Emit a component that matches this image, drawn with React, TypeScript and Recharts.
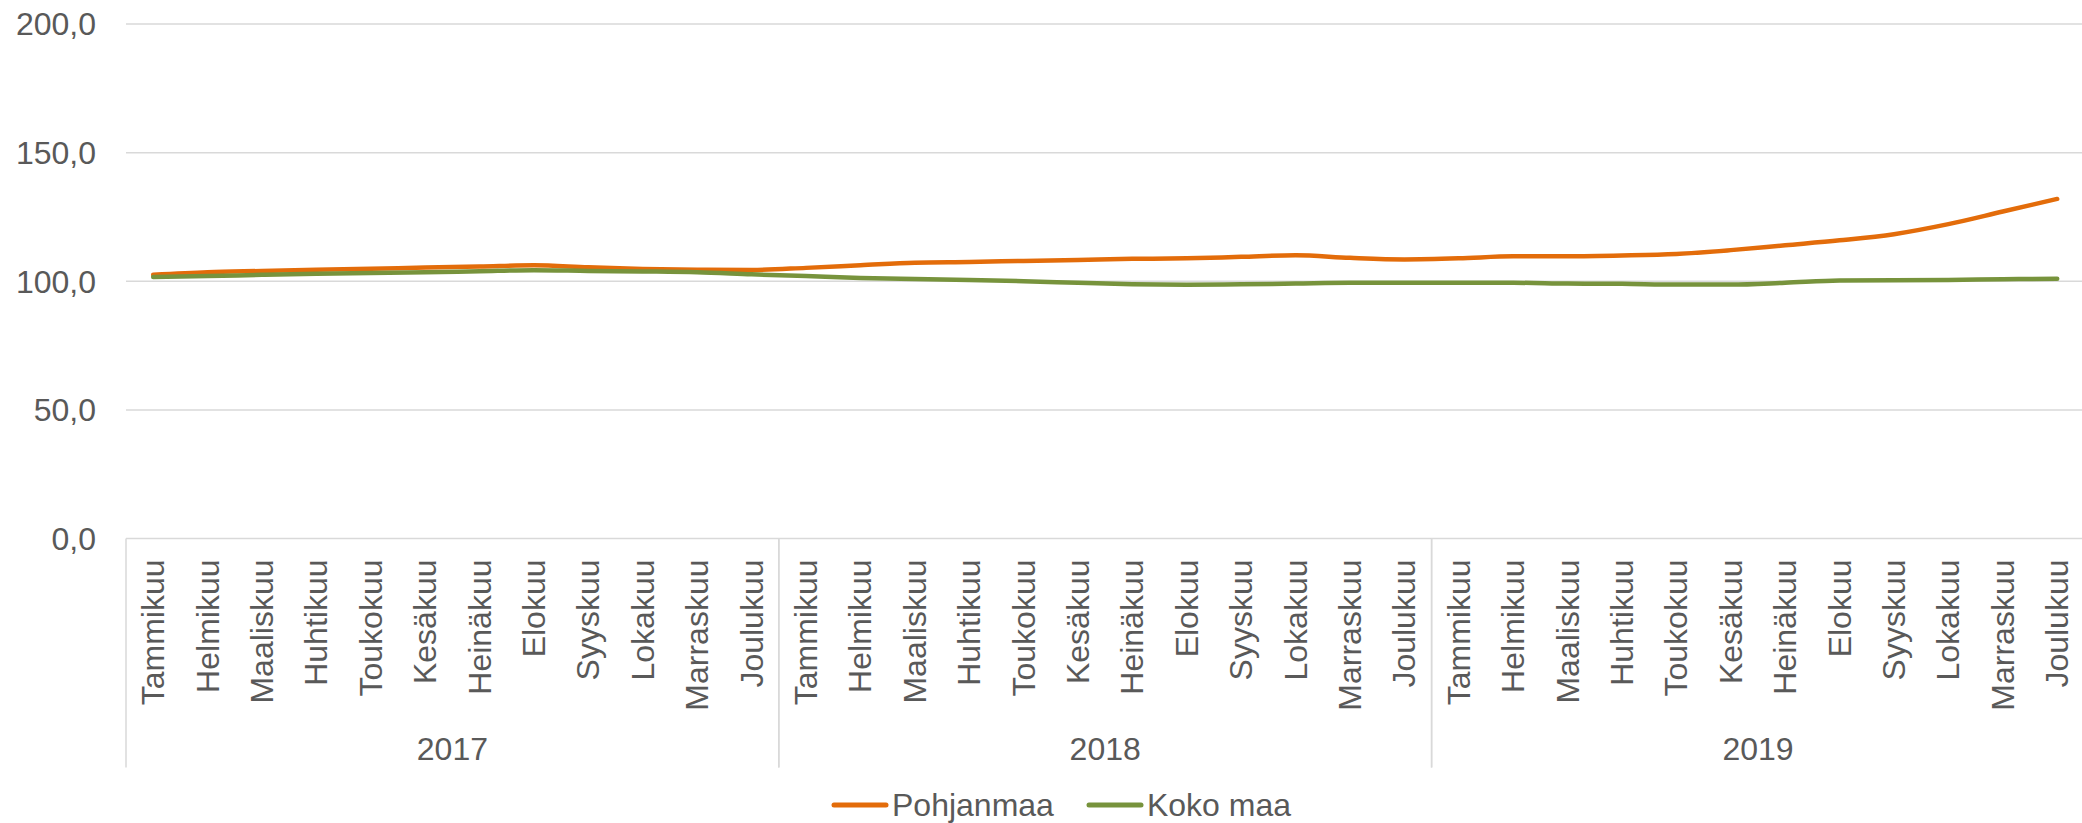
import { CartesianGrid, Legend, Line, LineChart, XAxis, YAxis } from "recharts";

const months = [
  "Tammikuu", "Helmikuu", "Maaliskuu", "Huhtikuu", "Toukokuu", "Kesäkuu",
  "Heinäkuu", "Elokuu", "Syyskuu", "Lokakuu", "Marraskuu", "Joulukuu",
];
const years = ["2017", "2018", "2019"];
const yTicks = [0, 50, 100, 150, 200];
const seriesNames = ["Pohjanmaa", "Koko maa"];

const pohjanmaa = [
  102.5, 103.5, 104.0, 104.5, 104.9, 105.3, 105.7, 106.2, 105.4, 104.8, 104.5, 104.4,
  105.2, 106.2, 107.2, 107.5, 107.9, 108.3, 108.7, 108.9, 109.5, 110.1, 109.1, 108.5,
  108.9, 109.7, 109.7, 110.0, 110.6, 112.1, 114.0, 115.9, 118.3, 122.2, 127.1, 132.0,
];
const kokoMaa = [
  101.7, 102.0, 102.5, 102.9, 103.2, 103.5, 103.9, 104.3, 104.0, 103.8, 103.5, 102.7,
  102.0, 101.3, 100.9, 100.5, 100.0, 99.4, 98.8, 98.6, 98.8, 99.1, 99.4, 99.4,
  99.4, 99.4, 99.1, 99.0, 98.7, 98.7, 99.4, 100.3, 100.4, 100.5, 100.8, 101.0,
];

const data = years.flatMap((year, yi) =>
  months.map((month, mi) => ({
    month,
    year,
    Pohjanmaa: pohjanmaa[yi * 12 + mi],
    "Koko maa": kokoMaa[yi * 12 + mi],
  }))
);

const W = 2100;
const H = 823;
const LEFT = 126;
const BAND = 54.4;
const TEXT = "#595959";
const GRID = "#d9d9d9";
const FONT = "'Liberation Sans', Arial, sans-serif";
const FS = 32;

function MonthTick(props: any) {
  const { x, y, index } = props;
  const i = index as number;
  const label = data[i]?.month;
  return (
    <g>
      <text
        x={x}
        y={y + 21}
        transform={`rotate(-90, ${x}, ${y + 21})`}
        textAnchor="end"
        dominantBaseline="central"
        fill={TEXT}
        fontSize={FS}
        fontFamily={FONT}
      >
        {label}
      </text>
      {i % 12 === 0 && (
        <line x1={x - BAND / 2} x2={x - BAND / 2} y1={y} y2={y + 229} stroke={GRID} strokeWidth={1.5} />
      )}
      {i % 12 === 11 && (
        <line x1={x + BAND / 2} x2={x + BAND / 2} y1={y} y2={y + 229} stroke={GRID} strokeWidth={1.5} />
      )}
      {i % 12 === 5 && (
        <text
          x={x + BAND / 2}
          y={y + 210}
          textAnchor="middle"
          dominantBaseline="central"
          fill={TEXT}
          fontSize={FS}
          fontFamily={FONT}
        >
          {data[i].year}
        </text>
      )}
    </g>
  );
}

function LegendContent(props: any) {
  const items = [...(props.payload || [])].sort(
    (a: any, b: any) => seriesNames.indexOf(a.value) - seriesNames.indexOf(b.value)
  );
  return (
    <div style={{ display: "flex", alignItems: "center", paddingLeft: 831, height: 36 }}>
      {items.map((it: any, k: number) => (
        <div key={k} style={{ display: "flex", alignItems: "center", marginRight: 32 }}>
          <svg width={58} height={10} style={{ marginRight: 3 }}>
            <line x1={3} x2={55} y1={5} y2={5} stroke={it.color} strokeWidth={5} strokeLinecap="round" />
          </svg>
          <span style={{ color: TEXT, fontSize: FS, fontFamily: FONT, lineHeight: "36px" }}>{it.value}</span>
        </div>
      ))}
    </div>
  );
}

export default function App() {
  return (
    <div
      style={{
        position: "absolute",
        left: 0,
        top: 0,
        width: 2082,
        height: H,
        overflow: "hidden",
        background: "#fff",
        fontFamily: FONT,
      }}
    >
      <LineChart
        width={W}
        height={H}
        data={data}
        margin={{ top: 24, right: W - LEFT - BAND * 36, bottom: 0, left: 0 }}
      >
        <CartesianGrid vertical={false} stroke={GRID} strokeWidth={1.5} />
        <XAxis
          dataKey="month"
          interval={0}
          height={248.5}
          padding={{ left: BAND / 2, right: BAND / 2 }}
          axisLine={false}
          tickLine={false}
          tickSize={0}
          tickMargin={0}
          tick={<MonthTick />}
        />
        <YAxis
          width={LEFT}
          domain={[0, 200]}
          ticks={yTicks}
          axisLine={false}
          tickLine={false}
          tickSize={0}
          tickMargin={30}
          tick={{ fill: TEXT, fontSize: FS, fontFamily: FONT }}
          tickFormatter={(v: number) => v.toFixed(1).replace(".", ",")}
        />
        <Legend
          verticalAlign="bottom"
          height={36}
          wrapperStyle={{ left: 0, width: W, height: 36 }}
          content={<LegendContent />}
        />
        <Line
          type="monotone"
          dataKey="Pohjanmaa"
          stroke="#E36C0A"
          strokeWidth={4.5}
          strokeLinecap="round"
          dot={false}
          isAnimationActive={false}
        />
        <Line
          type="monotone"
          dataKey="Koko maa"
          stroke="#77933C"
          strokeWidth={4.5}
          strokeLinecap="round"
          dot={false}
          isAnimationActive={false}
        />
      </LineChart>
    </div>
  );
}
